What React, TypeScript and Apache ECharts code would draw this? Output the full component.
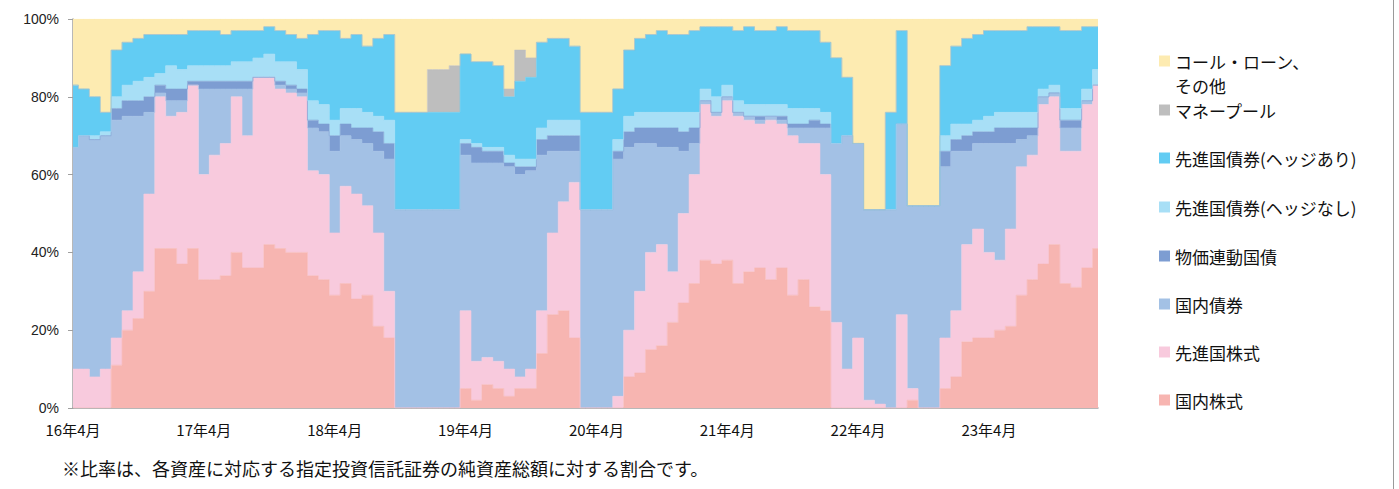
import React, { useEffect, useRef } from "react";
import * as echarts from "echarts";

const months = [
  "16年4月","16年5月","16年6月","16年7月","16年8月","16年9月","16年10月","16年11月","16年12月",
  "17年1月","17年2月","17年3月","17年4月","17年5月","17年6月","17年7月","17年8月","17年9月","17年10月","17年11月","17年12月",
  "18年1月","18年2月","18年3月","18年4月","18年5月","18年6月","18年7月","18年8月","18年9月","18年10月","18年11月","18年12月",
  "19年1月","19年2月","19年3月","19年4月","19年5月","19年6月","19年7月","19年8月","19年9月","19年10月","19年11月","19年12月",
  "20年1月","20年2月","20年3月","20年4月","20年5月","20年6月","20年7月","20年8月","20年9月","20年10月","20年11月","20年12月",
  "21年1月","21年2月","21年3月","21年4月","21年5月","21年6月","21年7月","21年8月","21年9月","21年10月","21年11月","21年12月",
  "22年1月","22年2月","22年3月","22年4月","22年5月","22年6月","22年7月","22年8月","22年9月","22年10月","22年11月","22年12月",
  "23年1月","23年2月","23年3月","23年4月","23年5月","23年6月","23年7月","23年8月","23年9月","23年10月","23年11月","23年12月",
  "24年1月","24年2月"
];

const yTicks = [0, 20, 40, 60, 80, 100];

// 国内株式
const domesticEquity = [
  0,0,0,0,11,20,23,30,41,41,37,41,
  33,33,34,40,36,36,42,41,40,40,34,33,
  29,32,28,29,21,18,0,0,0,0,0,0,
  5,2,6,5,3,5,5,14,24,25,18,0,
  0,0,0,8,9,15,16,22,27,32,38,37,
  38,32,35,36,33,36,29,33,26,25,0,0,
  0,0,0,0,0,2,0,0,5,8,17,18,
  18,20,21,29,33,37,42,32,31,36,41
];
// 先進国株式
const foreignEquity = [
  10,10,8,10,7,5,12,25,39,34,39,42,
  27,32,34,40,34,49,43,41,41,40,27,27,
  16,25,27,23,24,12,0,0,0,0,0,0,
  20,10,7,7,7,3,5,11,21,28,40,0,
  0,0,3,12,21,25,26,13,23,28,40,38,
  41,43,39,37,41,37,41,35,42,35,22,10,
  18,2,1,0,24,3,0,0,13,17,25,28,
  22,18,25,33,32,41,38,34,35,42,42
];
// 国内債券
const domesticBond = [
  57,60,61,60,56,50,40,21,1,4,3,0,
  22,17,14,2,12,0,0,1,1,1,11,11,
  21,13,14,16,21,34,51,51,51,51,51,51,
  40,51,50,51,52,52,51,40,21,13,8,51,
  51,51,61,47,38,28,25,32,16,8,1,1,
  1,1,1,1,1,1,2,4,4,12,46,60,
  50,49,50,51,49,47,52,52,44,41,24,22,
  28,30,22,7,5,2,1,6,6,1,0
];
// 物価連動国債
const inflationLinked = [
  0,0,0,0,3,4,4,4,2,3,3,1,
  2,2,2,2,2,0,0,1,1,1,2,2,
  4,3,3,4,5,4,0,0,0,0,0,0,
  3,4,3,3,1,2,1,4,4,4,4,0,
  0,0,2,4,4,4,5,5,5,4,0,0,
  0,0,0,1,0,1,1,1,2,1,0,0,
  0,0,0,0,0,0,0,0,4,3,4,3,
  3,4,4,3,2,0,0,2,2,0,0
];
// 先進国債券(ヘッジなし)
const foreignBondUnhedged = [
  0,0,1,1,3,4,5,5,3,6,5,4,
  4,4,4,5,5,5,6,5,6,5,5,5,
  4,4,5,4,4,6,0,0,0,0,0,0,
  1,1,1,1,2,2,2,3,4,4,4,0,
  0,0,3,4,4,4,4,4,5,4,3,4,
  3,3,3,3,3,3,4,4,3,3,0,0,
  0,0,0,0,0,0,0,0,4,4,3,3,
  4,4,4,4,4,2,2,3,3,3,4
];
// 先進国債券(ヘッジあり)
const foreignBondHedged = [
  16,12,10,5,12,11,11,11,10,8,9,9,
  9,9,8,8,8,7,7,8,7,8,17,19,
  23,18,19,17,20,22,25,25,25,25,25,25,
  22,21,22,21,15,20,21,22,21,21,19,25,
  25,25,13,17,19,20,21,20,20,21,16,18,
  15,18,20,19,19,20,20,20,20,18,22,15,
  0,0,0,25,24,0,0,0,18,20,22,22,
  22,21,21,21,22,16,15,20,20,16,11
];
// マネープール
const moneyPool = [
  0,0,0,0,0,0,0,0,0,0,0,0,
  0,0,0,0,0,0,0,0,0,0,0,0,
  0,0,0,0,0,0,0,0,0,11,11,12,
  0,0,0,0,2,8,5,0,0,0,0,0,
  0,0,0,0,0,0,0,0,0,0,0,0,
  0,0,0,0,0,0,0,0,0,0,0,0,
  0,0,0,0,0,0,0,0,0,0,0,0,
  0,0,0,0,0,0,0,0,0,0,0
];
// コール・ローン、その他
const callLoan = [
  17,18,20,24,8,6,5,4,4,4,4,3,
  3,3,4,3,3,3,2,3,4,5,4,3,
  3,5,4,7,5,4,24,24,24,13,13,12,
  9,11,11,12,18,8,10,6,5,5,7,24,
  24,24,18,8,5,4,3,4,4,3,2,2,
  2,3,2,3,3,2,3,3,3,6,10,15,
  32,49,49,24,3,48,48,48,12,7,5,4,
  3,3,3,3,2,2,2,3,3,2,2
];

const seriesDefs = [
  { name: "国内株式", data: domesticEquity, color: "#F7B5B1" },
  { name: "先進国株式", data: foreignEquity, color: "#F8CADD" },
  { name: "国内債券", data: domesticBond, color: "#A3C1E5" },
  { name: "物価連動国債", data: inflationLinked, color: "#7D9DD2" },
  { name: "先進国債券(ヘッジなし)", data: foreignBondUnhedged, color: "#A8DFF6" },
  { name: "先進国債券(ヘッジあり)", data: foreignBondHedged, color: "#62CCF3" },
  { name: "マネープール", data: moneyPool, color: "#BEBEBE" },
  { name: "コール・ローン、その他", data: callLoan, color: "#FDEBB1" },
];

const legendItems = [
  { label: "コール・ローン、", color: "#FDEBB1", y: 61 },
  { label: "マネープール", color: "#BEBEBE", y: 110 },
  { label: "先進国債券(ヘッジあり)", color: "#62CCF3", y: 158 },
  { label: "先進国債券(ヘッジなし)", color: "#A8DFF6", y: 207 },
  { label: "物価連動国債", color: "#7D9DD2", y: 256 },
  { label: "国内債券", color: "#A3C1E5", y: 304 },
  { label: "先進国株式", color: "#F8CADD", y: 352 },
  { label: "国内株式", color: "#F7B5B1", y: 400 },
];

const CJK = '"Noto Sans CJK JP", "Noto Sans", sans-serif';

export default function App() {
  const ref = useRef<HTMLDivElement>(null);
  useEffect(() => {
    document.body.style.margin = "0";
    const chart = echarts.init(ref.current!, null, { renderer: "svg" });
    const graphic: any[] = [];
    legendItems.forEach((it) => {
      graphic.push({
        type: "rect",
        shape: { x: 1159, y: it.y - 5.5, width: 11, height: 11 },
        style: { fill: it.color },
      });
      graphic.push({
        type: "text",
        x: 1175,
        y: it.y,
        style: { text: it.label, font: `17px ${CJK}`, fill: "#111", verticalAlign: "middle" },
      });
    });
    graphic.push({
      type: "text",
      x: 1175,
      y: 85,
      style: { text: "その他", font: `17px ${CJK}`, fill: "#111", verticalAlign: "middle" },
    });
    graphic.push({
      type: "text",
      x: 62,
      y: 468,
      style: {
        text: "※比率は、各資産に対応する指定投資信託証券の純資産総額に対する割合です。",
        font: `18px ${CJK}`,
        fill: "#111",
        verticalAlign: "middle",
      },
    });
    graphic.push({
      type: "line",
      shape: { x1: 1393.5, y1: 0, x2: 1393.5, y2: 489 },
      style: { stroke: "#9a9a9a", lineWidth: 1 },
    });

    chart.setOption({
      animation: false,
      grid: { left: 73, top: 19, right: 301, bottom: 81, containLabel: false },
      xAxis: {
        type: "category",
        data: months,
        boundaryGap: false,
        axisLine: { lineStyle: { color: "#a0a0a0", width: 1.5 } },
        axisTick: { show: false },
        axisLabel: {
          interval: 11,
          color: "#111",
          fontSize: 15,
          fontFamily: CJK,
          margin: 14,
        },
        splitLine: { show: false },
      },
      yAxis: {
        type: "value",
        min: yTicks[0],
        max: yTicks[yTicks.length - 1],
        interval: 20,
        axisLine: { show: true, lineStyle: { color: "#a0a0a0", width: 1.5 } },
        axisTick: { show: true, length: 5, lineStyle: { color: "#a0a0a0" } },
        axisLabel: {
          formatter: "{value}%",
          color: "#222",
          fontSize: 14,
          fontFamily: '"Liberation Sans", Arial, sans-serif',
          margin: 14,
        },
        splitLine: { show: false },
      },
      series: seriesDefs.map((s) => ({
        name: s.name,
        type: "line",
        stack: "total",
        step: "middle",
        data: s.data,
        symbol: "none",
        lineStyle: { width: 0.6, color: s.color },
        areaStyle: { color: s.color, opacity: 1 },
        itemStyle: { color: s.color },
        emphasis: { disabled: true },
      })),
      graphic,
    });
    return () => chart.dispose();
  }, []);
  return <div ref={ref} style={{ width: 1399, height: 489 }} />;
}
